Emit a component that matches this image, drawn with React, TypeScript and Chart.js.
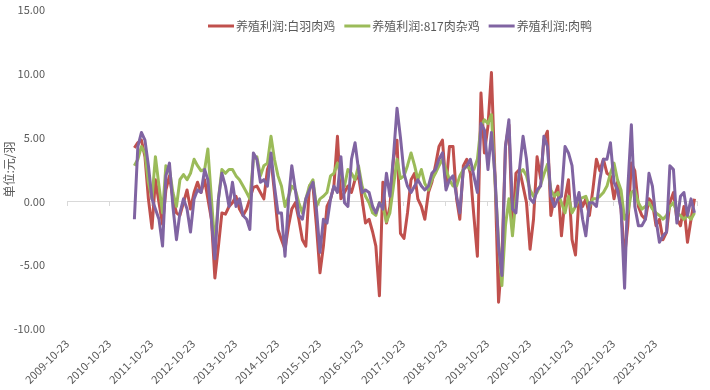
import { useEffect, useRef } from 'react';
import { Chart, registerables } from 'chart.js';

Chart.register(...registerables);

const seriesNames = ['养殖利润:白羽肉鸡', '养殖利润:817肉杂鸡', '养殖利润:肉鸭'];
const seriesColors = ['#C0504D', '#9BBB59', '#8064A2'];
const xTickLabels = [
  '2009-10-23', '2010-10-23', '2011-10-23', '2012-10-23', '2013-10-23',
  '2014-10-23', '2015-10-23', '2016-10-23', '2017-10-23', '2018-10-23',
  '2019-10-23', '2020-10-23', '2021-10-23', '2022-10-23', '2023-10-23',
];
const yTitle = '单位:元/羽';
const axisStart = '2009-10-23';
const firstMonth = '2011-06';

// monthly readings, 2011-06 .. 2024-10
const whiteBroiler = [
  4.2, 4.6, 4.8, 3.5, 0.2, -2.1, 1.7, -0.1, -1.8, 0.9,
  2.0, 0.2, -0.9, -1.1, -0.1, 0.9, -0.6, 0.7, 1.5, 0.7,
  1.7, 0.2, -1.4, -6.0, -3.5, -0.9, -1.0, -0.4, -0.1, 0.4,
  -0.6, -1.1, -0.6, 0.2, 1.1, 1.2, 0.7, 0.2, 2.5, 3.3,
  0.7, -2.2, -3.0, -3.75, -1.9, -0.6, -0.1, -1.4, -3.0, -3.5,
  1.2, 1.2, -1.9, -5.6, -3.5, -0.4, 0.2, 1.2, 5.1, 0.2,
  0.7, 1.2, 0.7, 1.7, 2.0, 0.2, -1.7, -1.4, -2.4, -3.5,
  -7.4, 1.5, -1.7, -0.4, 3.3, 4.8, -2.5, -2.9, -0.9, 1.7,
  2.2, 0.2, -0.4, -1.4, 0.7, 1.5, 2.8, 4.3, 4.8, 1.2,
  4.3, 4.3, 0.2, -1.4, 2.8, 3.3, 2.2, -1.1, -4.3, 8.5,
  3.8, 5.9, 10.1, 2.0, -7.9, -4.5, 4.3, 6.0, -2.2, 2.2,
  2.5, 1.2, -0.1, -3.75, -1.4, 3.5, 1.8, 4.8, 5.5, -1.1,
  0.4, 1.2, -2.7, 0.2, 1.7, -3.0, -4.2, 0.4, -0.4, 0.2,
  -1.1, 0.9, 3.3, 2.4, 3.3, 2.2, 2.0, 0.2, 1.5, -0.6,
  -4.3, -1.9, 3.0, 2.4, -0.4, -1.1, -1.4, 0.2, -0.1, -1.9,
  -1.4, -3.0, -2.4, -0.1, 0.7, -1.4, -1.9, -0.4, -3.2, -1.4,
  0.2,
];
const hybrid817 = [
  2.8, 3.3, 4.3, 3.8, 1.5, 0.2, 3.5, 1.2, -0.9, 2.8,
  2.5, 0.7, -0.4, 1.7, 2.1, 1.7, 2.2, 3.3, 2.8, 2.4,
  2.5, 4.1, 0.2, -3.5, 0.2, 2.5, 2.2, 2.5, 2.5, 2.0,
  1.7, 1.2, 0.7, 0.2, 3.3, 3.5, 2.0, 2.8, 3.0, 5.1,
  3.3, 2.0, 1.2, -0.4, 0.4, 1.2, 0.9, -0.1, -0.9, 0.2,
  1.2, 1.7, -0.4, 0.2, 0.4, 0.7, 2.0, 2.2, 3.0, 2.0,
  1.2, 2.5, 2.2, 1.7, 2.8, 1.2, 0.4, -0.1, -0.9, -1.1,
  -0.1, -0.4, -1.6, -0.9, 1.2, 3.3, 1.8, 2.0, 2.8, 3.8,
  2.8, 1.7, 2.5, 1.4, 0.9, 1.7, 2.2, 2.8, 3.3, 2.5,
  1.7, 1.2, 1.2, 2.0, 2.5, 2.8, 2.5, 2.5, 3.3, 5.9,
  6.4, 6.1, 6.8, 1.7, -3.2, -6.6, -1.9, 0.2, -2.7, 0.2,
  2.2, 2.5, 2.0, 0.9, 0.4, 0.7, 1.3, 2.1, 2.9, 0.9,
  0.4, 0.7, -0.1, -0.9, 0.4, -0.9, -0.4, 0.2, 0.3, 0.4,
  -0.4, 0.2, 0.2, 0.4, 0.7, 1.2, 2.2, 3.0, 1.7, 0.9,
  -1.4, -0.9, 0.7, 0.9, -0.1, -0.6, -0.4, -0.1, -0.6, -0.9,
  -1.1, -1.4, -1.1, -0.4, -0.1, -0.9, -1.1, -1.4, -1.1, -1.4,
  -0.9,
];
const meatDuck = [
  -1.4, 4.3, 5.4, 4.8, 2.8, 0.2, -0.6, -1.4, -3.5, 2.0,
  3.0, -0.4, -3.0, -0.9, 0.2, -0.6, -2.4, 0.2, 0.9, 0.7,
  2.5, 1.7, -1.4, -4.5, 0.2, 2.2, 1.2, -0.4, 1.5, -0.4,
  0.2, -1.1, -1.4, -2.2, 3.8, 3.3, 1.5, 1.7, 1.2, 3.8,
  1.2, -0.9, -0.9, -4.3, 0.2, 2.8, 0.9, -1.1, -1.4, 0.2,
  0.9, 1.5, -0.6, -4.0, -1.4, -1.7, 0.2, 1.2, 0.7, 3.5,
  -0.1, -0.4, 3.3, 4.6, 2.5, 0.7, 0.9, 0.7, -0.4, -0.9,
  -0.1, -0.6, 2.2, 0.4, 3.5, 7.3, 5.0, 2.2, 1.2, 0.7,
  1.2, 1.7, 1.2, 0.9, 1.2, 2.2, 2.5, 3.3, 3.8, 0.9,
  1.7, 2.0, 0.4, -0.9, 2.5, 2.8, 3.3, 2.0, 0.7, 6.1,
  5.6, 2.5, 5.4, 2.0, -3.5, -5.8, 4.3, 6.4, -0.6, -0.9,
  2.5, 5.1, 3.3, 0.2, -0.1, 0.9, 1.2, 5.1, 4.3, 0.4,
  -0.4, 0.2, 0.4, 4.3, 3.8, 2.8, -0.4, 0.7, -1.4, -2.7,
  -0.1, -0.1, -0.4, 1.7, 3.3, 3.3, 4.6, 1.5, 0.9, -0.6,
  -6.8, 1.0, 6.0, -0.4, -1.9, -1.9, -1.4, 2.2, 1.2, -1.4,
  -3.2, -2.7, -2.4, 2.8, 2.5, -1.7, 0.4, 0.7, -1.1, 0.2,
  -0.9,
];

const FONT = '"Noto Sans CJK SC", "Noto Sans", sans-serif';
const TEXT = '#595959';

function yearsSinceStart(monthIndex: number): number {
  const [sy, sm] = firstMonth.split('-').map(Number);
  const [by, bm, bd] = axisStart.split('-').map(Number);
  const d = Date.UTC(sy, sm - 1 + monthIndex, 1);
  const b = Date.UTC(by, bm - 1, bd);
  return (d - b) / (365.25 * 86400000);
}

function toPoints(values: number[]) {
  return values.map((v, i) => ({ x: yearsSinceStart(i), y: v }));
}

const overlayPlugin = {
  id: 'overlay',
  beforeDatasetsDraw(chart: any) {
    const { ctx, chartArea, scales } = chart;
    const y0 = scales.y.getPixelForValue(0);
    ctx.save();
    ctx.strokeStyle = '#D9D9D9';
    ctx.lineWidth = 1;
    ctx.beginPath();
    ctx.moveTo(chartArea.left, Math.round(y0) + 0.5);
    ctx.lineTo(chartArea.right, Math.round(y0) + 0.5);
    for (let k = 0; k <= xTickLabels.length; k++) {
      const x = Math.round(scales.x.getPixelForValue(k)) + 0.5;
      ctx.moveTo(x, Math.round(y0));
      ctx.lineTo(x, Math.round(y0) + 5);
    }
    ctx.stroke();
    ctx.restore();
  },
  afterDraw(chart: any) {
    const { ctx, chartArea } = chart;
    ctx.save();
    ctx.fillStyle = TEXT;
    ctx.font = `12px ${FONT}`;
    ctx.translate(9, (chartArea.top + chartArea.bottom) / 2);
    ctx.rotate(-Math.PI / 2);
    ctx.textAlign = 'center';
    ctx.textBaseline = 'middle';
    ctx.fillText(yTitle, 0, 0);
    ctx.restore();

    ctx.save();
    ctx.font = `12px ${FONT}`;
    ctx.textBaseline = 'middle';
    ctx.textAlign = 'left';
    let x = 208;
    const y = 26;
    chart.data.datasets.forEach((ds: any) => {
      ctx.strokeStyle = ds.borderColor;
      ctx.lineWidth = 3;
      ctx.beginPath();
      ctx.moveTo(x, y);
      ctx.lineTo(x + 26, y);
      ctx.stroke();
      ctx.fillStyle = TEXT;
      ctx.fillText(ds.label, x + 28, y);
      x += 28 + ctx.measureText(ds.label).width + 9;
    });
    ctx.restore();
  },
};

export default function App() {
  const ref = useRef<HTMLCanvasElement | null>(null);
  useEffect(() => {
    if (!ref.current) return;
    const all = [whiteBroiler, hybrid817, meatDuck];
    const chart = new Chart(ref.current, {
      type: 'line',
      data: {
        datasets: all.map((vals, i) => ({
          label: seriesNames[i],
          data: toPoints(vals),
          borderColor: seriesColors[i],
          backgroundColor: seriesColors[i],
          borderWidth: 3,
          pointRadius: 0,
          tension: 0,
          fill: false,
          borderJoinStyle: 'round' as const,
          order: 3 - i,
        })),
      },
      options: {
        animation: false,
        responsive: false,
        devicePixelRatio: 1,
        layout: { padding: { top: 10, right: 13, left: 0, bottom: 0 } },
        plugins: { legend: { display: false }, tooltip: { enabled: false } },
        scales: {
          x: {
            type: 'linear',
            min: 0,
            max: xTickLabels.length,
            grid: { display: false },
            border: { display: false },
            afterBuildTicks: (s: any) => {
              s.ticks = xTickLabels.map((_, k) => ({ value: k }));
            },
            afterFit: (s: any) => {
              s.height = 61;
            },
            ticks: {
              autoSkip: false,
              minRotation: 45,
              maxRotation: 45,
              padding: 0,
              color: TEXT,
              font: { size: 11, family: FONT },
              callback: (v: any) => xTickLabels[Math.round(Number(v))] ?? '',
            },
          },
          y: {
            min: -10,
            max: 15,
            grid: { display: false },
            border: { display: false },
            afterFit: (s: any) => {
              s.width = 67;
              s.paddingTop = 0;
              s.paddingBottom = 0;
            },
            ticks: {
              stepSize: 5,
              padding: 14,
              color: TEXT,
              font: { size: 11, family: FONT },
              callback: (v: any) => Number(v).toFixed(2),
            },
          },
        },
      },
      plugins: [overlayPlugin],
    });
    return () => chart.destroy();
  }, []);
  return (
    <div style={{ position: 'absolute', left: 0, top: 0, width: 710, height: 390, background: '#fff' }}>
      <canvas ref={ref} width={710} height={390} style={{ width: 710, height: 390 }} />
    </div>
  );
}
